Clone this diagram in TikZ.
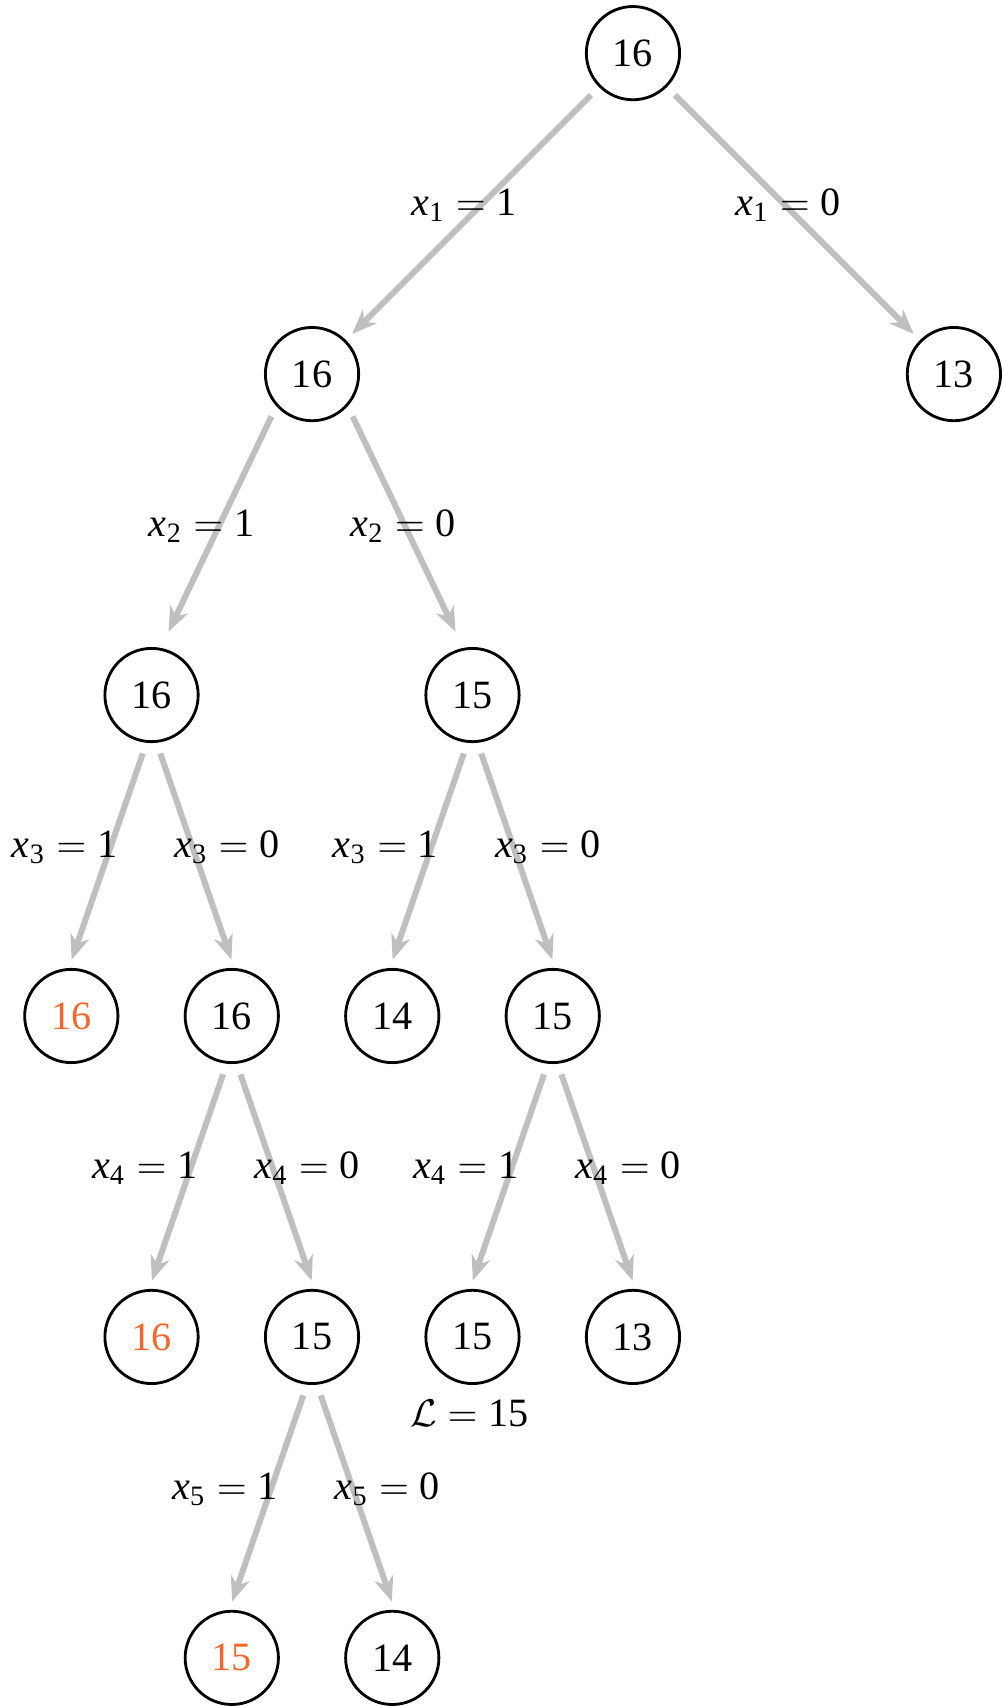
\documentclass[tikz,border=0pt]{standalone}
\usepackage[no-math]{fontspec}
\setmainfont{Liberation Serif}
\usepackage{xcolor}
\usepackage{tikz}
\usetikzlibrary{arrows.meta,positioning}

\definecolor{hot}{RGB}{247,102,41}
\newcommand{\xlab}[2]{\textit{x}\textsubscript{#1}${}={}$#2}

\begin{document}
\begin{tikzpicture}[node distance=3.2cm and 0.8cm, on grid,
  font=\fontsize{11.4}{13.7}\selectfont,
  bnode/.style={draw, thick, circle, minimum size=0.93cm, inner sep=0pt},
  branch/.style={draw=black!25, line width=1.7pt, -{Stealth[length=7pt,width=5.5pt,inset=2.2pt]},
    shorten <=3.2pt, shorten >=2.5pt},
  choice/.style={midway, anchor=base}]
\useasboundingbox (0,0) rectangle (10,-17.01);

\node[bnode] (a) at (6.311,-0.53) {16};
\node[bnode,below left=3.2cm and 3.2cm of a] (b) {16};
\node[bnode,below right=3.2cm and 3.2cm of a] (c) {13};
\node[bnode,below left=3.2cm and 1.6cm of b] (d) {16};
\node[bnode,below right=3.2cm and 1.6cm of b] (e) {15};
\node[bnode,below left=of d,text=hot] (f) {16};
\node[bnode,below right=of d] (g) {16};
\node[bnode,below left=of e] (h) {14};
\node[bnode,below right=of e] (i) {15};
\node[bnode,below left=of g,text=hot] (j) {16};
\node[bnode,below right=of g] (k) {15};
\node[bnode,below left=of i] (l) {15};
\node[bnode,below right=of i] (m) {13};
\node[bnode,below left=of k,text=hot] (n) {15};
\node[bnode,below right=of k] (o) {14};
\node[anchor=base] (p) at ([xshift=-0.03cm,yshift=-0.894cm]l.center) {$\mathcal{L}$${}={}$15};

% first choice
\draw[branch] (a.-135) -- node[choice,xshift=-0.083cm,yshift=-0.02cm] {\xlab{1}{1}} (b.45);
\draw[branch] (a.-45) -- node[choice,xshift=-0.053cm,yshift=-0.02cm] {\xlab{1}{0}} (c.135);
% second choice
\draw[branch,shorten >=5.1pt] (b.-138) -- node[choice,xshift=-0.169cm,yshift=-0.095cm] {\xlab{2}{1}} (d.79);
\draw[branch,shorten >=5.1pt] (b.-42) -- node[choice,xshift=-0.024cm,yshift=-0.095cm] {\xlab{2}{0}} (e.101);
% steep ones
\draw[branch] (d.-96) -- node[choice,xshift=-0.43cm,yshift=-0.021cm] {\xlab{3}{1}} (f.93);
\draw[branch] (d.-84) -- node[choice,xshift=0.313cm,yshift=-0.021cm] {\xlab{3}{0}} (g.87);
\draw[branch] (e.-96) -- node[choice,xshift=-0.43cm,yshift=-0.021cm] {\xlab{3}{1}} (h.93);
\draw[branch] (e.-84) -- node[choice,xshift=0.313cm,yshift=-0.021cm] {\xlab{3}{0}} (i.87);
\draw[branch] (g.-96) -- node[choice,xshift=-0.43cm,yshift=-0.021cm] {\xlab{4}{1}} (j.93);
\draw[branch] (g.-84) -- node[choice,xshift=0.313cm,yshift=-0.021cm] {\xlab{4}{0}} (k.87);
\draw[branch] (i.-96) -- node[choice,xshift=-0.43cm,yshift=-0.021cm] {\xlab{4}{1}} (l.93);
\draw[branch] (i.-84) -- node[choice,xshift=0.313cm,yshift=-0.021cm] {\xlab{4}{0}} (m.87);
\draw[branch] (k.-96) -- node[choice,xshift=-0.43cm,yshift=-0.021cm] {\xlab{5}{1}} (n.93);
\draw[branch] (k.-84) -- node[choice,xshift=0.313cm,yshift=-0.021cm] {\xlab{5}{0}} (o.87);
\end{tikzpicture}
\end{document}
